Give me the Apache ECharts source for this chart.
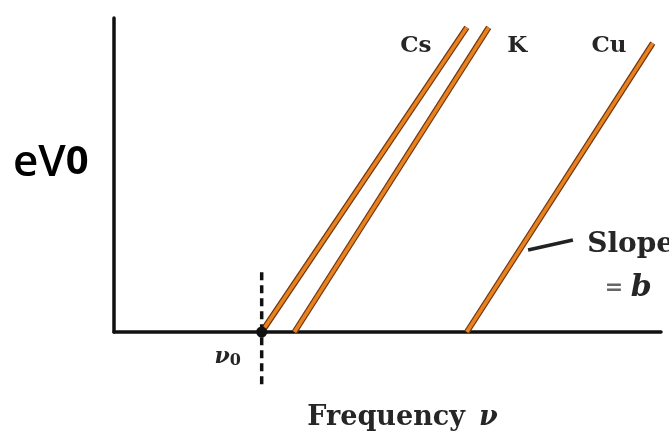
<!DOCTYPE html>
<html>
<head>
<meta charset="utf-8">
<script src="https://cdn.jsdelivr.net/npm/echarts@6/dist/echarts.min.js"></script>
<style>
  html, body { margin: 0; padding: 0; background: #fff; }
  #chart { width: 669px; height: 443px; }
</style>
</head>
<body>
<div id="chart"></div>
<script>
// Stopping energy eV0 versus light frequency for three metals.
// Each metal is a straight line starting at its threshold frequency.
const metals = ['Cs', 'K', 'Cu'];
const startFreq = [2.7, 3.3, 6.45];   // threshold frequency (x where eV0 = 0)
const endFreq = [6.45, 6.85, 9.85];   // frequency at the top of each line
const endEnergy = [9.7, 9.7, 9.2];    // eV0 at the top of each line

// Label anchors for the metal names (x, y in data units)
const metalLabelPos = [[5.52, 9.1], [7.37, 9.1], [9.05, 9.1]];

// Threshold marker for the first metal
const nu0 = 2.7;
const nu0DashRange = [1.9, -1.8];
const nu0LabelPos = [2.08, -0.8];

// Slope annotation
const slopeLeader = [[7.57, 2.61], [8.39, 2.93]];
const slopeTextPos = [8.65, 2.77];
const slopeSubPos = [9.4, 1.4];

const chart = echarts.init(document.getElementById('chart'));

const serif = '"DejaVu Serif", "Liberation Serif", serif';
const ink = '#262626';

const series = [];
metals.forEach((m, i) => {
  const pts = [[startFreq[i], 0], [endFreq[i], endEnergy[i]]];
  // dark edge underneath, orange core on top
  series.push({
    type: 'line', data: pts, symbol: 'none', silent: true, z: 3,
    lineStyle: { color: '#6e3410', width: 6 }
  });
  series.push({
    type: 'line', data: pts, symbol: 'none', silent: true, z: 4,
    lineStyle: { color: '#e8821e', width: 3.6 }
  });
});

// dashed vertical line at nu0
series.push({
  type: 'line', clip: false, symbol: 'none', silent: true, z: 5,
  data: [[nu0, nu0DashRange[0]], [nu0, nu0DashRange[1]]],
  lineStyle: { color: '#111', width: 3.5, type: [8, 5] }
});

// dot where the Cs line meets the axis
series.push({
  type: 'scatter', clip: false, silent: true, z: 6,
  data: [[nu0, 0]], symbolSize: 11,
  itemStyle: { color: '#111', opacity: 1 }
});

// slope leader line
series.push({
  type: 'line', clip: false, symbol: 'none', silent: true, z: 5,
  data: slopeLeader,
  lineStyle: { color: '#222', width: 3.5 }
});

// text labels placed at data positions
function textPoint(pos, text, style, align) {
  return {
    type: 'scatter', clip: false, silent: true, z: 7,
    symbolSize: 0,
    itemStyle: { opacity: 1 },
    data: [{ value: pos }],
    label: {
      show: true, position: 'inside', formatter: text,
      align: align || 'center', verticalAlign: 'middle',
      color: ink, fontFamily: serif, fontWeight: 'bold',
      rich: style.rich, fontSize: style.fontSize
    }
  };
}

metals.forEach((m, i) => {
  series.push(textPoint(metalLabelPos[i], m, { fontSize: 23 }));
});
series.push(textPoint(nu0LabelPos, '{i|ν}{s|0}', {
  fontSize: 20,
  rich: {
    i: { fontFamily: serif, fontStyle: 'italic', fontWeight: 'bold', fontSize: 22, color: ink },
    s: { fontFamily: serif, fontWeight: 'bold', fontSize: 16, color: ink, padding: [8, 0, 0, 0] }
  }
}));
series.push(textPoint(slopeTextPos, 'Slope', { fontSize: 28 }, 'left'));
series.push(textPoint(slopeSubPos, '{e|=} {b|b}', {
  fontSize: 22,
  rich: {
    e: { fontFamily: serif, fontSize: 22, color: '#666', fontWeight: 'bold' },
    b: { fontFamily: serif, fontSize: 30, color: ink, fontStyle: 'italic', fontWeight: 'bold' }
  }
}));

chart.setOption({
  backgroundColor: '#ffffff',
  animation: false,
  title: {
    text: '{a|eV}{b|0}',
    left: 8, top: 136,
    textStyle: {
      rich: {
        a: { fontFamily: '"Open Sans", "Noto Sans", sans-serif', fontWeight: 600, fontSize: 44, color: '#000' },
        b: { fontFamily: '"Liberation Sans Narrow", "Open Sans", sans-serif', fontWeight: 'bold', fontSize: 40, color: '#000' }
      }
    }
  },
  grid: { left: 114, right: 8, top: 18, bottom: 111, containLabel: false },
  xAxis: {
    type: 'value', min: 0, max: 10,
    name: '{t|Frequency}{v|ν}',
    nameLocation: 'middle', nameGap: 72,
    nameTextStyle: {
      padding: [0, 0, 0, 30],
      rich: {
        t: { fontFamily: serif, fontWeight: 'bold', fontSize: 27, color: ink },
        v: { fontFamily: serif, fontWeight: 'bold', fontStyle: 'italic', fontSize: 27, color: ink, padding: [0, 0, 0, 14] }
      }
    },
    axisLine: { lineStyle: { color: '#111', width: 3.5 } },
    axisTick: { show: false }, axisLabel: { show: false }, splitLine: { show: false }
  },
  yAxis: {
    type: 'value', min: 0, max: 10,
    axisLine: { show: true, lineStyle: { color: '#111', width: 3.5 } },
    axisTick: { show: false }, axisLabel: { show: false }, splitLine: { show: false }
  },
  series: series
});
</script>
</body>
</html>
